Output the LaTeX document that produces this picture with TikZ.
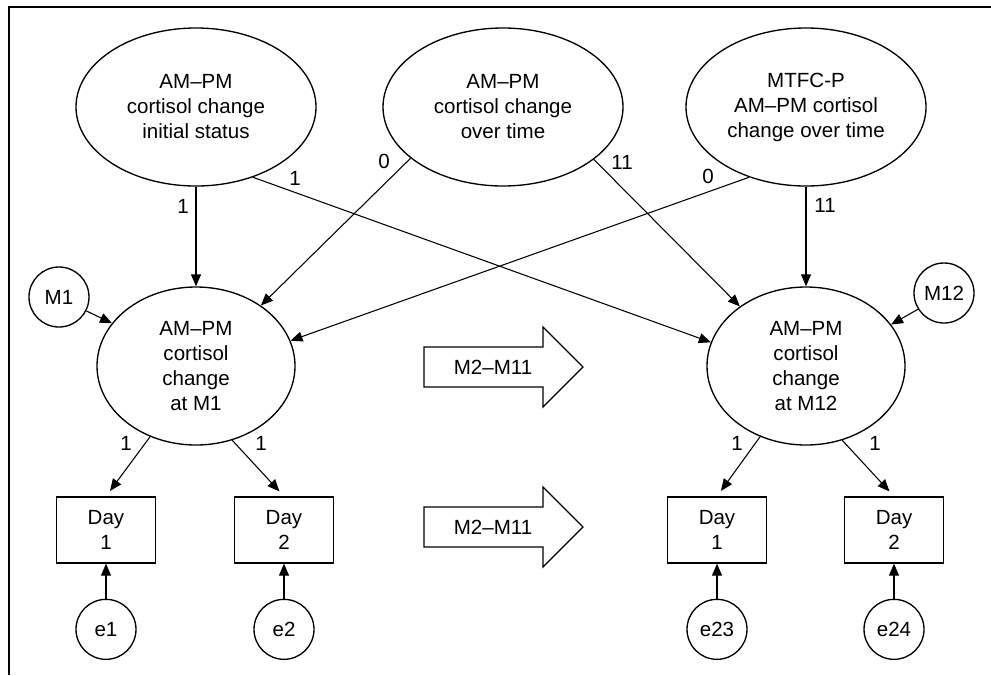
\documentclass[tikz,border=0pt]{standalone}
\usepackage{fontspec}
\setmainfont{Liberation Sans}
\usetikzlibrary{arrows.meta,positioning,shapes.geometric}

\begin{document}
\begin{tikzpicture}[
  x=0.75pt, y=-0.75pt,
  font=\fontsize{15.4}{18.75}\selectfont,
  >={Triangle[length=9pt,width=7.5pt]},
  latent/.style={draw, ellipse, line width=1pt, inner sep=0pt, align=center},
  growth/.style={latent, minimum width=180pt, minimum height=118.5pt},
  occ/.style={latent, minimum width=148.5pt, minimum height=118.5pt},
  resid/.style={draw, circle, line width=1pt, minimum size=45pt, inner sep=0pt},
  obs/.style={draw, rectangle, line width=1pt, minimum width=74.25pt, minimum height=49.5pt, inner sep=0pt, align=center},
  reg/.style={->, line width=.8pt},
  load/.style={->, line width=.8pt, shorten >=5pt},
  lbl/.style={inner sep=0pt},
  blockarr/.style={draw, line width=.9pt, line join=miter}
]
\useasboundingbox (0,0) rectangle (991,675);
\draw[line width=1.2pt] (9,675) -- (9,7) -- (991,7);

% growth factors
\node[growth] (init) at (196,107) {AM--PM\\cortisol change\\initial status};
\node[growth] (slope) at (503,107) {AM--PM\\cortisol change\\over time};
\node[growth] (mtfc) at (806,107) {MTFC-P\\AM--PM cortisol\\change over time};

% occasions
\node[occ] (occ1) at (196,366) {AM--PM\\cortisol\\change\\at M1};
\node[occ] (occ12) at (806,366) {AM--PM\\cortisol\\change\\at M12};
\node[resid] (m1) at (59,297) {M1};
\node[resid] (m12) at (944,293) {M12};

% indicators
\node[obs] (day1a) at (106,530) {Day\\1};
\node[obs] (day2a) at (284,530) {Day\\2};
\node[obs] (day1b) at (717,530) {Day\\1};
\node[obs] (day2b) at (894,530) {Day\\2};
\node[resid, below=26.25pt of day1a] (e1) {e1};
\node[resid, below=26.25pt of day2a] (e2) {e2};
\node[resid, below=26.25pt of day1b] (e23) {e23};
\node[resid, below=26.25pt of day2b] (e24) {e24};

% skipped months
\draw[blockarr] (424,347) -- (543,347) -- (543,327) -- (583,367) -- (543,407) -- (543,387) -- (424,387) -- cycle;
\node (skip1) at (493,367) {M2--M11};
\draw[blockarr] (424,507) -- (543,507) -- (543,487) -- (583,527) -- (543,567) -- (543,547) -- (424,547) -- cycle;
\node (skip2) at (493,527) {M2--M11};

\draw[reg] (init.south) -- (occ1.north);
\draw[reg] (init.-51) -- (occ12.166);
\draw[reg] (slope.209) -- (occ1.43);
\draw[reg] (slope.-30) -- (occ12.138);
\draw[reg] (mtfc.231) -- (occ1.15);
\draw[reg] (mtfc.south) -- (occ12.north);
\draw[reg] (m1.-27) -- (occ1.153);
\draw[reg] (m12.212) -- (occ12.26);

\draw[load] (occ1.237) -- (day1a.north);
\draw[load] (occ1.-64) -- (day2a.north);
\draw[load] (occ12.237) -- (day1b.north);
\draw[load] (occ12.-64) -- (day2b.north);
\draw[reg] (e1) -- (day1a);
\draw[reg] (e2) -- (day2a);
\draw[reg] (e23) -- (day1b);
\draw[reg] (e24) -- (day2b);

\node[lbl] (w-init1) at (183,206) {1};
\node[lbl] (w-init12) at (295,178) {1};
\node[lbl] (w-slope1) at (384,161) {0};
\node[lbl] (w-slope12) at (622,162) {11};
\node[lbl] (w-mtfc1) at (708,176) {0};
\node[lbl] (w-mtfc12) at (825,205) {11};
\node[lbl] (w-1a) at (126,443) {1};
\node[lbl] (w-2a) at (261,443) {1};
\node[lbl] (w-1b) at (737,443) {1};
\node[lbl] (w-2b) at (875,443) {1};
\end{tikzpicture}
\end{document}
